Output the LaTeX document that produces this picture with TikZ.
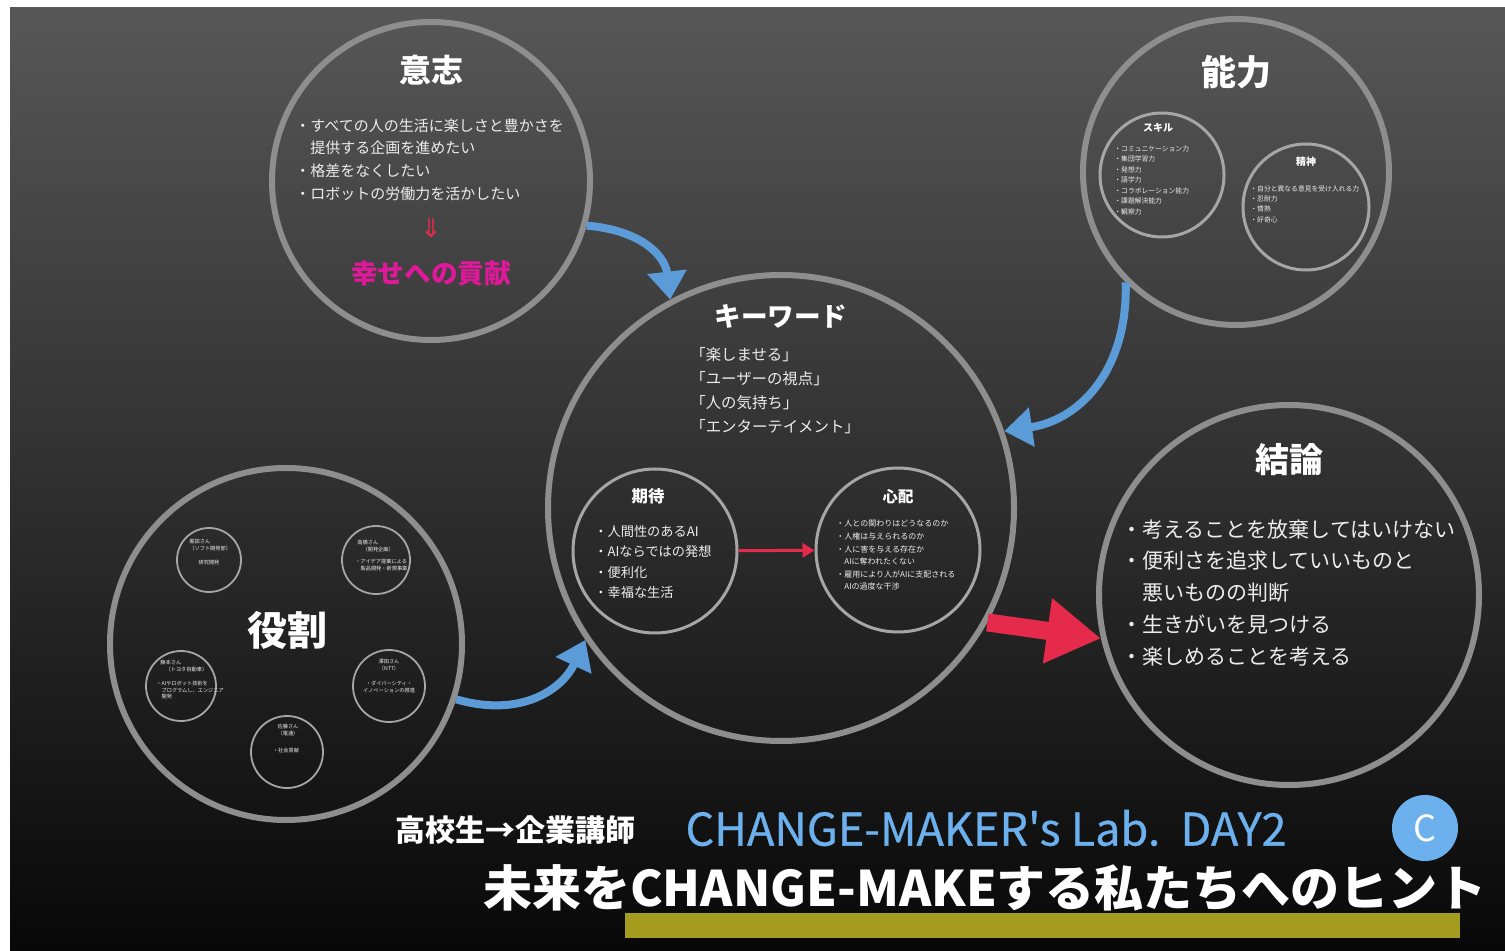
\documentclass[tikz,border=0pt]{standalone}
\usepackage{fontspec}
\setmainfont{Noto Sans CJK JP}
\newfontfamily\symfont{DejaVu Sans}
\newfontfamily\labfont{Noto Sans CJK JP}[FakeBold=0.6]
\usetikzlibrary{arrows.meta}
\definecolor{bgtop}{HTML}{575757}
\definecolor{bgbot}{HTML}{080808}
\definecolor{ring}{HTML}{8E8E8E}
\definecolor{ringin}{HTML}{A6A6A6}
\definecolor{txt}{HTML}{EDEDED}
\definecolor{mag}{HTML}{E0189A}
\definecolor{redar}{HTML}{E52A4C}
\definecolor{bluear}{HTML}{5B9CD8}
\definecolor{sky}{HTML}{6CB0EE}
\definecolor{olive}{HTML}{A39C1E}
\tikzset{
  bigring/.style={circle, draw=ring, line width=3pt, inner sep=0pt},
  midring/.style={circle, draw=ringin, line width=1.5pt, inner sep=0pt},
  tinyring/.style={circle, draw=ringin, line width=0.9pt, inner sep=0pt},
  ttl/.style={text=white, inner sep=0pt, font=\bfseries},
  lst/.style={text=txt, inner sep=0pt, align=left, anchor=north west},
  tiny/.style={text=txt, inner sep=0pt, font={\fontsize{2.6}{3.2}\selectfont}},
  bluearrow/.style={draw=bluear, line width=4pt, -{Triangle[length=14pt,width=19pt]}},
}
\begin{document}
\begin{tikzpicture}[x=0.5pt,y=-0.5pt]
\useasboundingbox (0,0) rectangle (1505,951);
\fill[white] (0,0) rectangle (1505,951);
\shade[top color=bgtop,bottom color=bgbot] (10,8) rectangle (1505,951);

% ---------- big circles ----------
\node[bigring, minimum size=159pt] (ishi) at (431,181) {};
\node[bigring, minimum size=153pt] (nor) at (1236,172) {};
\node[bigring, minimum size=233pt] (kw) at (781,508) {};
\node[bigring, minimum size=190pt] (ketsu) at (1289,595) {};
\node[bigring, minimum size=176pt] (yaku) at (286,644) {};

% ---------- 意志 ----------
\node[ttl, font={\bfseries\fontsize{16}{18}\selectfont}] (ishiT) at (431,70) {意志};
\node[lst, font={\fontsize{7.5}{11.35}\selectfont}] (ishiL) at (295,118)
  {・すべての人の生活に楽しさと豊かさを\\　提供する企画を進めたい\\・格差をなくしたい\\・ロボットの労働力を活かしたい};
\node[text=redar, inner sep=0pt, font={\symfont\fontsize{13}{15}\selectfont}] (ishiA) at (431,228) {⇓};
\node[text=mag, inner sep=0pt, font={\bfseries\fontsize{13.3}{15}\selectfont}] (ishiC) at (431,273) {幸せへの貢献};

% ---------- 能力 ----------
\node[ttl, font={\bfseries\fontsize{17.5}{20}\selectfont}] (norT) at (1236,72) {能力};
\node[midring, minimum size=62pt] (skill) at (1162,175) {};
\node[midring, minimum size=63pt] (seishin) at (1306,207) {};
\node[ttl, font={\bfseries\fontsize{5}{6}\selectfont}] (skillT) at (1158,128) {スキル};
\node[lst, font={\fontsize{3.4}{5.25}\selectfont}] (skillL) at (1114,145)
  {・コミュニケーション力\\・集団学習力\\・発想力\\・語学力\\・コラボレーション能力\\・課題解決能力\\・観察力};
\node[ttl, font={\bfseries\fontsize{5}{6}\selectfont}] (seishinT) at (1306,162) {精神};
\node[lst, font={\fontsize{3.4}{5.2}\selectfont}] (seishinL) at (1250,185)
  {・自分と異なる意見を受け入れる力\\・忍耐力\\・情熱\\・好奇心};

% ---------- キーワード ----------
\node[ttl, font={\bfseries\fontsize{13.3}{15}\selectfont}] (kwT) at (781,316) {キーワード};
\node[lst, font={\fontsize{7.7}{12}\selectfont}] (kwL) at (690,347)
  {「楽しませる」\\「ユーザーの視点」\\「人の気持ち」\\「エンターテイメント」};
\node[midring, minimum size=82pt] (kitai) at (655,551) {};
\node[midring, minimum size=82pt] (shinpai) at (898,550) {};
\node[ttl, font={\bfseries\fontsize{8.2}{10}\selectfont}] (kitaiT) at (648,496) {期待};
\node[lst, font={\fontsize{6.6}{10.2}\selectfont}] (kitaiL) at (594,525)
  {・人間性のあるAI\\・AIならではの発想\\・便利化\\・幸福な生活};
\node[ttl, font={\bfseries\fontsize{7.7}{9}\selectfont}] (shinpaiT) at (898,497) {心配};
\node[lst, font={\fontsize{4}{6.3}\selectfont}] (shinpaiL) at (836,520)
  {・人との関わりはどうなるのか\\・人権は与えられるのか\\・人に害を与える存在か\\　AIに奪われたくない\\・雇用により人がAIに支配される\\　AIの過度な干渉};
\draw[redar, line width=1.5pt, -{Triangle[length=6pt,width=7pt]}] (kitai) -- (shinpai);

% ---------- 結論 ----------
\node[ttl, font={\bfseries\fontsize{17}{19}\selectfont}] (ketsuT) at (1289,460) {結論};
\node[lst, font={\fontsize{10.5}{15.9}\selectfont}] (ketsuL) at (1121,519)
  {・考えることを放棄してはいけない\\・便利さを追求していいものと\\　悪いものの判断\\・生きがいを見つける\\・楽しめることを考える};

% ---------- 役割 ----------
\node[ttl, font={\bfseries\fontsize{20}{22}\selectfont}] (yakuT) at (287,630) {役割};
\node[tinyring, minimum size=32pt] (r1) at (209,560) {};
\node[tinyring, minimum size=34pt] (r2) at (376,560) {};
\node[tinyring, minimum size=35pt] (r3) at (181,686) {};
\node[tinyring, minimum size=36pt] (r4) at (389,686) {};
\node[tinyring, minimum size=36pt] (r5) at (287,752) {};
\node[tiny, align=left, anchor=north west] (r1h) at (189,539) {堀田さん\\（ソフト開発部）};
\node[tiny] (r1b) at (209,563) {研究開発};
\node[tiny, align=left, anchor=north west] (r2h) at (357,540) {高橋さん\\　（開発企画）};
\node[tiny, align=left, anchor=north west] (r2b) at (355,559) {・アイデア提案による\\　製品開発・新規事業};
\node[tiny, align=left, anchor=north west] (r3h) at (160,660) {藤本さん\\　（トヨタ自動車）};
\node[tiny, align=left, anchor=north west] (r3b) at (156,681) {・AIやロボット技術を\\　プログラムし、エンジニア\\　開発};
\node[tiny, align=center] (r4h) at (389,665) {澤田さん\\（NTT）};
\node[tiny, align=center] (r4b) at (389,687) {・ダイバーシティ・\\イノベーションの推進};
\node[tiny, align=center] (r5h) at (288,730) {佐藤さん\\（電通）};
\node[tiny] (r5b) at (286,751) {・社会貢献};

% ---------- arrows ----------
\draw[bluearrow] (ishi.-16) .. controls (640,230) and (665,255) .. (kw.118);
\draw[bluearrow] (nor.225) .. controls (1128,370) and (1080,420) .. (kw.19);
\draw[bluearrow] (yaku.-18) .. controls (520,718) and (562,690) .. (kw.214);
\draw[redar, line width=9pt, -{Triangle[length=27pt,width=31pt]}] (kw.-29) -- (ketsu.193);

% ---------- bottom ----------
\fill[olive] (625,913) rectangle (1460,938);
\node[ttl, font={\bfseries\fontsize{15}{17}\selectfont}] (sub) at (515,830) {高校生→企業講師};
\node[text=sky, inner sep=0pt, font={\labfont\fontsize{22.5}{25}\selectfont}] (lab) at (986,828) {CHANGE-MAKER's Lab.\ \ DAY2};
\node[circle, fill=sky, minimum size=33pt, inner sep=0pt, text=white, font={\fontsize{18}{20}\selectfont}] (logo) at (1425,828) {C};
\node[ttl, font={\bfseries\fontsize{24.5}{27}\selectfont}] (main) at (985,888) {未来をCHANGE-MAKEする私たちへのヒント};
\end{tikzpicture}
\end{document}
